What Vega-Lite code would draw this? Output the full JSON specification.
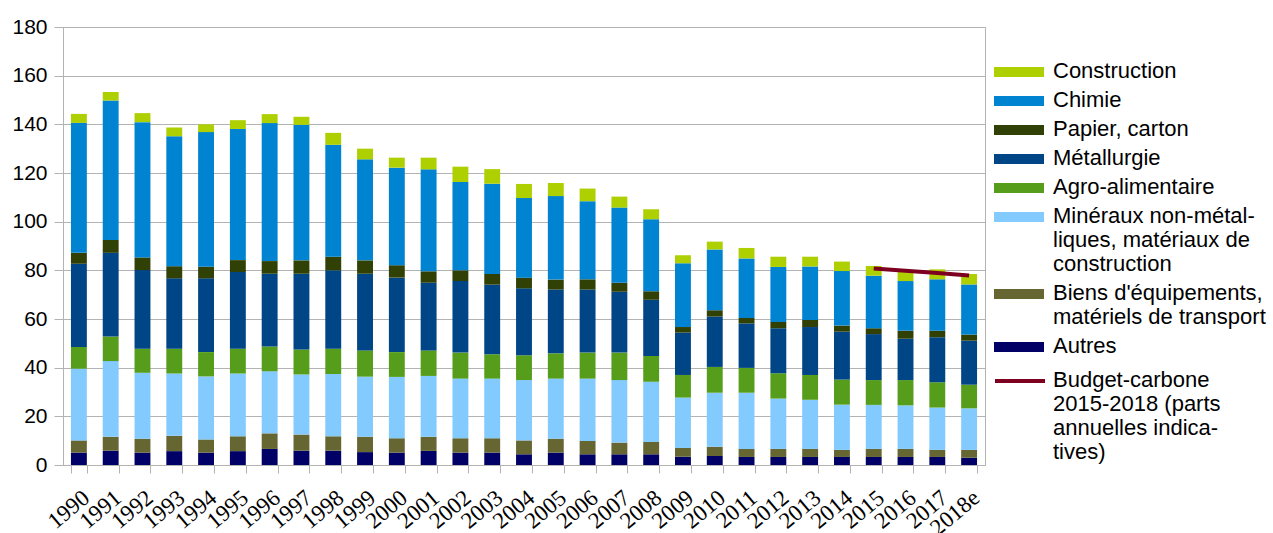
{
  "$schema": "https://vega.github.io/schema/vega-lite/v6.json",
  "autosize": "none",
  "width": 922,
  "height": 438,
  "padding": {"left": 63, "top": 27, "right": 288, "bottom": 68},
  "background": "white",
  "config": {
    "view": {"stroke": "#b3b3b3", "strokeWidth": 1},
    "font": "Liberation Sans"
  },
  "datasets": {
    "bars": [
      {"annee":"1990","Autres":5.1,"Biens":5.0,"Mineraux":29.5,"Agro":8.9,"Metal":34.2,"Papier":4.5,"Chimie":53.4,"Construction":3.7},
      {"annee":"1991","Autres":5.9,"Biens":5.7,"Mineraux":31.1,"Agro":10.1,"Metal":34.4,"Papier":5.3,"Chimie":57.3,"Construction":3.5},
      {"annee":"1992","Autres":5.1,"Biens":5.7,"Mineraux":27.1,"Agro":9.9,"Metal":32.3,"Papier":5.2,"Chimie":55.6,"Construction":3.7},
      {"annee":"1993","Autres":5.7,"Biens":6.3,"Mineraux":25.6,"Agro":10.2,"Metal":28.9,"Papier":5.0,"Chimie":53.4,"Construction":3.6},
      {"annee":"1994","Autres":5.1,"Biens":5.4,"Mineraux":25.9,"Agro":10.0,"Metal":30.3,"Papier":4.8,"Chimie":55.3,"Construction":3.2},
      {"annee":"1995","Autres":5.7,"Biens":6.1,"Mineraux":25.8,"Agro":10.2,"Metal":31.5,"Papier":4.9,"Chimie":53.9,"Construction":3.6},
      {"annee":"1996","Autres":6.6,"Biens":6.4,"Mineraux":25.5,"Agro":10.2,"Metal":29.9,"Papier":5.2,"Chimie":56.7,"Construction":3.7},
      {"annee":"1997","Autres":5.9,"Biens":6.6,"Mineraux":24.7,"Agro":10.3,"Metal":31.1,"Papier":5.5,"Chimie":55.7,"Construction":3.3},
      {"annee":"1998","Autres":5.9,"Biens":5.9,"Mineraux":25.6,"Agro":10.4,"Metal":32.2,"Papier":5.6,"Chimie":46.0,"Construction":4.9},
      {"annee":"1999","Autres":5.3,"Biens":6.3,"Mineraux":24.7,"Agro":10.8,"Metal":31.5,"Papier":5.5,"Chimie":41.5,"Construction":4.4},
      {"annee":"2000","Autres":5.1,"Biens":5.9,"Mineraux":25.2,"Agro":10.2,"Metal":30.6,"Papier":5.1,"Chimie":40.1,"Construction":4.1},
      {"annee":"2001","Autres":5.8,"Biens":5.8,"Mineraux":25.0,"Agro":10.5,"Metal":27.8,"Papier":4.7,"Chimie":41.9,"Construction":4.8},
      {"annee":"2002","Autres":5.1,"Biens":5.9,"Mineraux":24.5,"Agro":10.7,"Metal":29.4,"Papier":4.4,"Chimie":36.3,"Construction":6.3},
      {"annee":"2003","Autres":5.1,"Biens":5.9,"Mineraux":24.5,"Agro":10.0,"Metal":28.6,"Papier":4.4,"Chimie":37.1,"Construction":6.0},
      {"annee":"2004","Autres":4.4,"Biens":5.7,"Mineraux":24.8,"Agro":10.2,"Metal":27.5,"Papier":4.4,"Chimie":32.7,"Construction":5.8},
      {"annee":"2005","Autres":5.1,"Biens":5.7,"Mineraux":24.7,"Agro":10.4,"Metal":26.2,"Papier":4.1,"Chimie":34.3,"Construction":5.4},
      {"annee":"2006","Autres":4.4,"Biens":5.5,"Mineraux":25.6,"Agro":10.7,"Metal":25.9,"Papier":4.2,"Chimie":32.1,"Construction":5.2},
      {"annee":"2007","Autres":4.4,"Biens":4.8,"Mineraux":25.7,"Agro":11.3,"Metal":25.0,"Papier":3.7,"Chimie":30.9,"Construction":4.5},
      {"annee":"2008","Autres":4.4,"Biens":5.1,"Mineraux":24.7,"Agro":10.6,"Metal":23.1,"Papier":3.5,"Chimie":29.6,"Construction":4.1},
      {"annee":"2009","Autres":3.4,"Biens":3.6,"Mineraux":20.7,"Agro":9.3,"Metal":17.4,"Papier":2.3,"Chimie":26.2,"Construction":3.3},
      {"annee":"2010","Autres":3.7,"Biens":3.8,"Mineraux":22.2,"Agro":10.6,"Metal":20.7,"Papier":2.6,"Chimie":25.0,"Construction":3.2},
      {"annee":"2011","Autres":3.3,"Biens":3.3,"Mineraux":23.1,"Agro":10.2,"Metal":18.3,"Papier":2.2,"Chimie":24.5,"Construction":4.3},
      {"annee":"2012","Autres":3.3,"Biens":3.3,"Mineraux":20.7,"Agro":10.4,"Metal":18.5,"Papier":2.6,"Chimie":22.6,"Construction":4.2},
      {"annee":"2013","Autres":3.3,"Biens":3.3,"Mineraux":20.2,"Agro":10.2,"Metal":19.7,"Papier":2.9,"Chimie":22.0,"Construction":4.0},
      {"annee":"2014","Autres":3.3,"Biens":2.9,"Mineraux":18.6,"Agro":10.3,"Metal":19.7,"Papier":2.5,"Chimie":22.4,"Construction":3.9},
      {"annee":"2015","Autres":3.3,"Biens":3.3,"Mineraux":18.1,"Agro":10.2,"Metal":18.9,"Papier":2.4,"Chimie":21.6,"Construction":4.0},
      {"annee":"2016","Autres":3.3,"Biens":3.3,"Mineraux":17.9,"Agro":10.4,"Metal":17.0,"Papier":3.3,"Chimie":20.4,"Construction":3.7},
      {"annee":"2017","Autres":3.3,"Biens":2.9,"Mineraux":17.4,"Agro":10.4,"Metal":18.5,"Papier":2.7,"Chimie":21.1,"Construction":4.1},
      {"annee":"2018e","Autres":3.0,"Biens":3.2,"Mineraux":17.1,"Agro":9.7,"Metal":18.1,"Papier":2.5,"Chimie":20.6,"Construction":4.3}
    ],
    "budget": [
      {"annee":"2015","valeur":80.8},
      {"annee":"2016","valeur":79.8},
      {"annee":"2017","valeur":78.9},
      {"annee":"2018e","valeur":77.9}
    ]
  },
  "layer": [
    {
      "data": {"name": "bars"},
      "transform": [
        {"fold": ["Autres","Biens","Mineraux","Agro","Metal","Papier","Chimie","Construction"], "as": ["secteur","valeur"]},
        {"lookup": "secteur", "from": {"data": {"values": [
          {"k":"Autres","nom":"Autres","rang":1},
          {"k":"Biens","nom":"Biens d'équipements, matériels de transport","rang":2},
          {"k":"Mineraux","nom":"Minéraux non-métalliques, matériaux de construction","rang":3},
          {"k":"Agro","nom":"Agro-alimentaire","rang":4},
          {"k":"Metal","nom":"Métallurgie","rang":5},
          {"k":"Papier","nom":"Papier, carton","rang":6},
          {"k":"Chimie","nom":"Chimie","rang":7},
          {"k":"Construction","nom":"Construction","rang":8}
        ]}, "key": "k", "fields": ["nom","rang"]}}
      ],
      "mark": {"type": "bar"},
      "encoding": {
        "x": {"field": "annee", "type": "nominal",
          "scale": {"paddingInner": 0.5, "paddingOuter": 0.25},
          "axis": {"title": null, "labelAngle": -40, "labelFont": "Liberation Serif", "labelFontSize": 23, "labelColor": "#000000",
            "domainColor": "#b3b3b3", "tickColor": "#b3b3b3", "tickSize": 8, "tickBand": "extent", "labelPadding": 13, "labelAlign": "right", "labelBaseline": "top", "labelBound": false, "labelOverlap": false}},
        "y": {"field": "valeur", "type": "quantitative", "stack": "zero",
          "scale": {"domain": [0, 180], "nice": false},
          "axis": {"title": null, "values": [0,20,40,60,80,100,120,140,160,180], "labelFontSize": 21, "labelColor": "#000000",
            "gridColor": "#b3b3b3", "domainColor": "#b3b3b3", "tickColor": "#b3b3b3", "tickSize": 9, "labelPadding": 7}},
        "order": {"field": "rang", "type": "quantitative"},
        "color": {"field": "nom", "type": "nominal",
          "scale": {
            "domain": ["Construction","Chimie","Papier, carton","Métallurgie","Agro-alimentaire","Minéraux non-métalliques, matériaux de construction","Biens d'équipements, matériels de transport","Autres"],
            "range": ["#aecf00","#0084d1","#314004","#004586","#579d1c","#83caff","#666633","#000066"]
          },
          "legend": {"title": null, "orient": "none", "legendX": 945, "legendY": 34,
            "symbolType": "M-2.5,-0.5H2.5V0.5H-2.5Z", "symbolSize": 400, "symbolStrokeWidth": 0,
            "labelFontSize": 22, "labelColor": "#000000", "labelLimit": 300, "labelOffset": 23, "labelBaseline": "top", "rowPadding": 7,
            "labelExpr": "datum.label == 'Minéraux non-métalliques, matériaux de construction' ? ['Minéraux non-métal-', 'liques, matériaux de', 'construction'] : datum.label == \"Biens d'équipements, matériels de transport\" ? [\"Biens d'équipements,\", 'matériels de transport'] : datum.label",
            "labelLineHeight": 28,
            "encode": {"labels": {"update": {"dy": {"value": -11}}}}}
        }
      }
    },
    {
      "data": {"name": "budget"},
      "mark": {"type": "line", "strokeWidth": 4},
      "encoding": {
        "x": {"field": "annee", "type": "nominal"},
        "y": {"field": "valeur", "type": "quantitative"},
        "stroke": {"datum": "Budget-carbone", "type": "nominal",
          "scale": {"range": ["#7e0021"]},
          "legend": {"title": null, "orient": "none", "legendX": 930, "legendY": 327,
            "symbolType": "stroke", "symbolSize": 2500, "symbolStrokeWidth": 4,
            "labelFontSize": 22, "labelColor": "#000000", "labelLimit": 300, "labelOffset": 6, "labelBaseline": "top",
            "labelExpr": "['Budget-carbone', '2015-2018 (parts', 'annuelles indica-', 'tives)']",
            "labelLineHeight": 26,
            "encode": {"labels": {"update": {"dy": {"value": -11}}}}}
        }
      }
    }
  ]
}
